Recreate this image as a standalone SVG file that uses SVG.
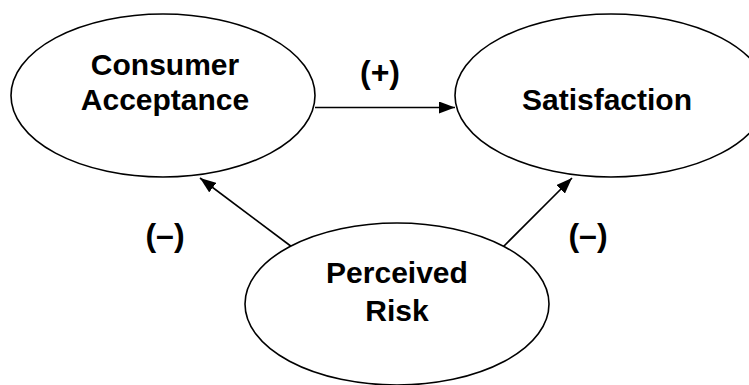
<svg xmlns="http://www.w3.org/2000/svg" width="749" height="385" viewBox="0 0 749 385">
<style>
.node ellipse{fill:#fff;stroke:#000;stroke-width:1.6}
.node text,.lbl{font-family:"Liberation Sans",Arial,sans-serif;font-weight:bold;fill:#000;text-anchor:middle}
.node text{font-size:30px}
.lbl{font-size:32px}
.edge{stroke:#000;stroke-width:1.6;fill:none}
</style>
<defs>
<marker id="ah" viewBox="0 0 16 12" refX="16" refY="6" markerWidth="16" markerHeight="12" markerUnits="userSpaceOnUse" orient="auto">
<path d="M0,0 L16,6 L0,12 Z" fill="#000"/>
</marker>
</defs>
<rect width="749" height="385" fill="#fff"/>
<g id="connectors">
<line class="edge" x1="315" y1="107.5" x2="455" y2="107.5" marker-end="url(#ah)"/>
<line class="edge" x1="292" y1="247" x2="200" y2="178" marker-end="url(#ah)"/>
<line class="edge" x1="503" y1="247" x2="572" y2="178" marker-end="url(#ah)"/>
</g>
<g id="node-consumer" class="node">
<ellipse cx="163" cy="95.5" rx="152" ry="81.5"/>
<text x="165" y="75">Consumer</text>
<text x="165" y="110">Acceptance</text>
</g>
<g id="node-satisfaction" class="node">
<ellipse cx="611" cy="95.5" rx="156" ry="81.5"/>
<text x="607" y="110">Satisfaction</text>
</g>
<g id="node-risk" class="node">
<ellipse cx="397" cy="304" rx="152" ry="81"/>
<text x="397" y="283">Perceived</text>
<text x="397" y="321">Risk</text>
</g>
<g id="labels">
<text class="lbl" x="380" y="83">(+)</text>
<text class="lbl" x="165" y="246">(–)</text>
<text class="lbl" x="588" y="246">(–)</text>
</g>
</svg>
